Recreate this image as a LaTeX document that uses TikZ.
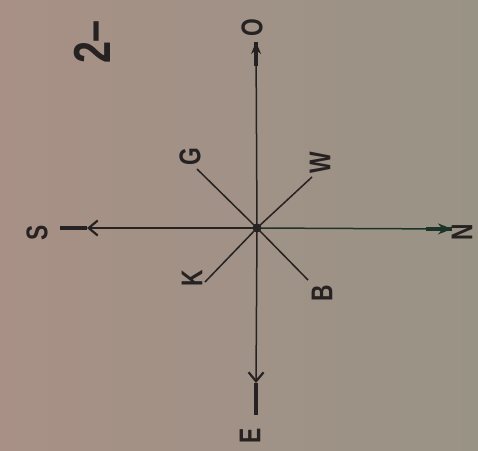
\documentclass[tikz,border=0pt]{standalone}
\usepackage{fontspec}
\setmainfont{Liberation Sans}
\usetikzlibrary{arrows.meta}
\definecolor{ink}{RGB}{38,34,34}
\definecolor{inkgreen}{RGB}{28,52,40}
\definecolor{paperL}{RGB}{168,144,134}
\definecolor{paperR}{RGB}{153,147,134}
\newcommand{\narrow}[1]{\scalebox{0.76}[1]{#1}}
\begin{document}
\begin{tikzpicture}[x=1pt,y=-1pt,
  every node/.style={font=\fontsize{30}{30}\bfseries\selectfont,rotate=90,inner sep=0pt,text=ink},
  ray/.style={draw=ink,line width=1.5pt},
  stub/.style={draw=ink,line width=3.2pt},
  barb/.style={-{Straight Barb[length=9pt,width=15pt,line width=2.2pt]}}]
  % paper
  \shade[left color=paperL,right color=paperR] (0,0) rectangle (478,450);
  \useasboundingbox (0,0) rectangle (478,450);
  % title
  \node[font=\fontsize{52}{52}\bfseries\selectfont] (title) at (92,42) {\narrow{2--}};
  % hub and letters
  \node[circle,fill=ink,minimum size=9pt] (c) at (257,228) {};
  \node (o) at (252,28) {\narrow{O}};
  \node (e) at (250,436) {\narrow{E}};
  \node (s) at (37,233) {\narrow{S}};
  \node (n) at (462,232) {\narrow{N}};
  \node (g) at (190,157) {\narrow{G}};
  \node (w) at (320,163) {\narrow{W}};
  \node (k) at (192,278) {\narrow{K}};
  \node (b) at (322,293) {\narrow{B}};
  % ends of the rays
  \coordinate (oTip) at (256,42);
  \coordinate (oStub) at (256,66);
  \coordinate (eTip) at (256,383);
  \coordinate (eStub) at (256,415);
  \coordinate (sTip) at (87,228);
  \coordinate (sStub) at (60,228);
  \coordinate (nTip) at (452,229);
  \coordinate (nStub) at (426,229);
  \coordinate (gEnd) at (197,169);
  \coordinate (wEnd) at (312,177);
  \coordinate (kEnd) at (205,282);
  \coordinate (bEnd) at (308,280);
  % axes
  \draw[ray,-{Stealth[length=12pt,width=10pt]}] (c.center) -- (oTip);
  \draw[stub] (oStub) -- (oTip);
  \draw[ray,barb] (c.center) -- (eTip);
  \draw[stub] (eTip) -- (eStub);
  \draw[ray,barb] (c.center) -- (sTip);
  \draw[stub] (sTip) -- (sStub);
  \draw[ray,draw=inkgreen,-{Stealth[length=14pt,width=11pt]}] (c.center) -- (nTip);
  \draw[stub,draw=inkgreen] (nStub) -- (nTip);
  % diagonals
  \draw[ray] (c.center) -- (gEnd);
  \draw[ray] (c.center) -- (wEnd);
  \draw[ray] (c.center) -- (kEnd);
  \draw[ray] (c.center) -- (bEnd);
\end{tikzpicture}
\end{document}
